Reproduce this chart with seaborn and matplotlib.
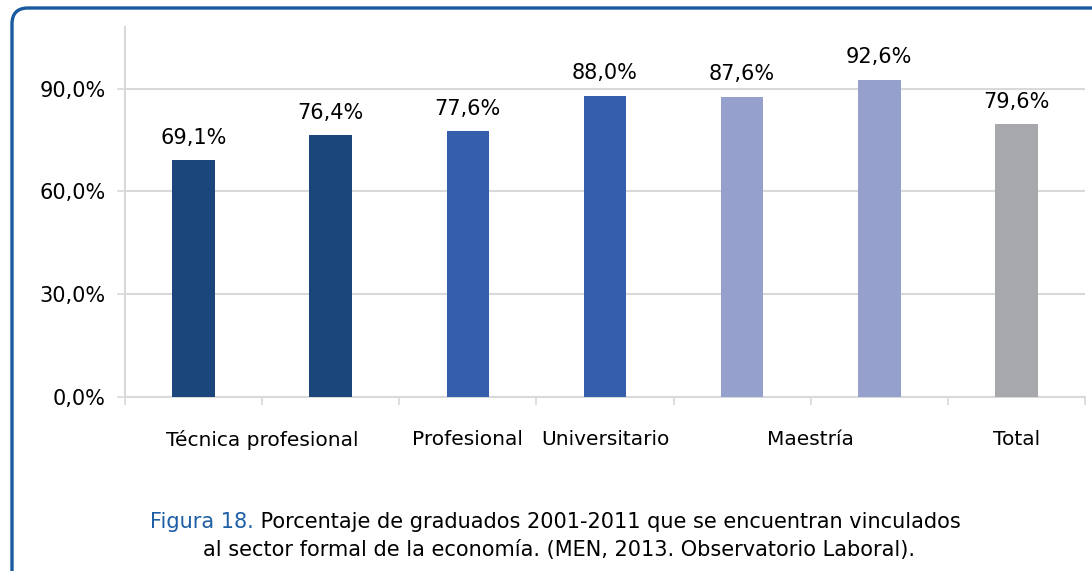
import matplotlib
matplotlib.use("Agg")
import matplotlib.pyplot as plt
import matplotlib.transforms as mtransforms
import seaborn as sns
import pandas as pd
from matplotlib.patches import FancyBboxPatch

# datos
bar_names = ["TP1", "TP2", "Prof", "Univ", "Maes1", "Maes2", "Total"]
values = [69.1, 76.4, 77.6, 88.0, 87.6, 92.6, 79.6]
value_labels = ["69,1%", "76,4%", "77,6%", "88,0%", "87,6%", "92,6%", "79,6%"]
bar_colors = ["#1b467b", "#1b467b", "#355fad", "#355fad", "#95a0cc", "#95a0cc", "#a7a8ab"]
group_labels = ["Técnica profesional", "Profesional", "Universitario", "Maestría", "Total"]
group_pos = [0.5, 2, 3, 4.5, 6]
y_ticks = [0, 30, 60, 90]
y_ticklabels = ["0,0%", "30,0%", "60,0%", "90,0%"]

caption_blue = "Figura 18."
caption_1 = " Porcentaje de graduados 2001-2011 que se encuentran vinculados"
caption_2 = "al sector formal de la economía. (MEN, 2013. Observatorio Laboral)."

sns.set_style("white")
plt.rcParams["font.family"] = ["DejaVu Sans"]
plt.rcParams["text.color"] = "black"
plt.rcParams["xtick.color"] = "black"
plt.rcParams["ytick.color"] = "black"

df = pd.DataFrame({"name": bar_names, "value": values})

fig = plt.figure(figsize=(10.92, 5.71), dpi=100)
ax = fig.add_axes([125 / 1092, 174 / 571, 960 / 1092, 370 / 571])

sns.barplot(data=df, x="name", y="value", hue="name", palette=bar_colors,
            legend=False, width=0.31, saturation=1, linewidth=0, ax=ax, zorder=3)

for i, (v, lab) in enumerate(zip(values, value_labels)):
    ax.annotate(lab, (i, v), xytext=(0, 9), textcoords="offset points",
                ha="center", va="bottom", fontsize=15, color="black")

ax.set_xlim(-0.5, 6.5)
ax.set_ylim(0, 108)
ax.set_yticks(y_ticks)
ax.set_yticklabels(y_ticklabels, fontsize=15)
ax.yaxis.grid(True, color="#d9d9d9", linewidth=1.5, zorder=0)
ax.set_axisbelow(True)
ax.tick_params(axis="y", length=6, width=1.2, color="#d9d9d9", labelcolor="black",
               pad=8, left=True)

ax.set_xticks([x - 0.5 for x in range(8)])
ax.set_xticklabels([])
ax.tick_params(axis="x", length=6, width=1.2, color="#d9d9d9", bottom=True)
for p, lab in zip(group_pos, group_labels):
    ax.text(p, -0.115, lab, transform=ax.get_xaxis_transform(), ha="center",
            va="center", fontsize=14.5, color="black")

ax.set_xlabel("")
ax.set_ylabel("")
for s in ["top", "right"]:
    ax.spines[s].set_visible(False)
for s in ["left", "bottom"]:
    ax.spines[s].set_color("#d9d9d9")
    ax.spines[s].set_linewidth(1.5)

# marco azul redondeado (en pixeles)
frame = FancyBboxPatch((12, -40), 1200, 563 + 40,
                       boxstyle="round,pad=0,rounding_size=16",
                       transform=mtransforms.IdentityTransform(), fill=False,
                       edgecolor="#1a5a9e", linewidth=2.4, clip_on=False)
fig.patches.append(frame)

t1 = fig.text(150 / 1092, 1 - 522 / 571, caption_blue, color="#1f5fa5",
              fontsize=15, ha="left", va="center")
ax.annotate(caption_1, xy=(1, 0.5), xycoords=t1, ha="left", va="center",
            fontsize=15, color="black", annotation_clip=False)
fig.text(559 / 1092, 1 - 550 / 571, caption_2, fontsize=15, ha="center",
         va="center", color="black")

fig.savefig("out.png", dpi=100)
